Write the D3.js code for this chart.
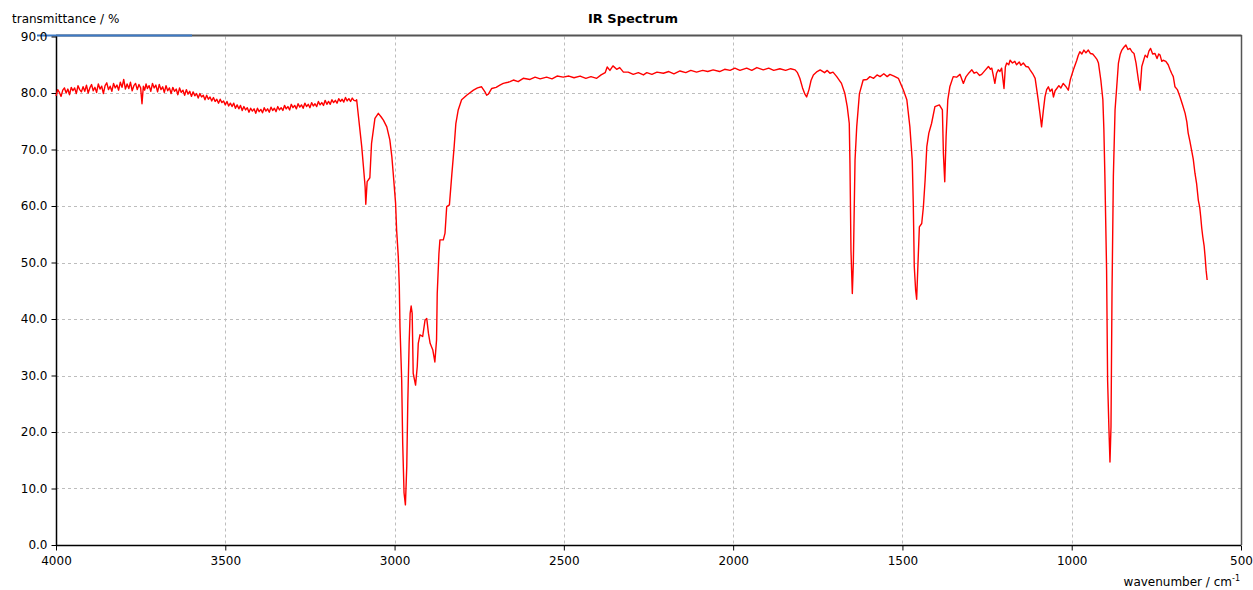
<!DOCTYPE html>
<html>
<head>
<meta charset="utf-8">
<script src="https://cdn.jsdelivr.net/npm/d3@7"></script>
<style>
  body { margin: 0; background: #fff; }
  svg text { font-family: "DejaVu Sans", Verdana, sans-serif; }
</style>
</head>
<body>
<svg id="chart" width="1253" height="590"></svg>
<script>
// IR spectrum (wavenumber cm-1, transmittance %)
var xTicks = [4000, 3500, 3000, 2500, 2000, 1500, 1000, 500]
var yTicks = [0, 10, 20, 30, 40, 50, 60, 70, 80, 90]

// noisy OH / baseline part, 4000 - 3115
var baseHigh = [
  [4000, 79.5], [3995, 80.6], [3990, 80.1], [3985, 79.4], [3980, 80.5], [3975, 80.9],
  [3970, 80.0], [3965, 80.7], [3960, 79.7], [3955, 81.0], [3950, 80.4], [3945, 80.9],
  [3940, 79.9], [3935, 81.3], [3930, 80.6], [3925, 80.2], [3920, 81.1], [3915, 80.3],
  [3910, 81.4], [3905, 80.0], [3900, 80.9], [3895, 81.5], [3890, 80.4], [3885, 81.0],
  [3880, 80.1], [3875, 81.6], [3870, 80.7], [3865, 81.2], [3860, 79.9], [3855, 81.3],
  [3850, 81.8], [3845, 80.6], [3840, 81.2], [3835, 80.3], [3830, 81.7], [3825, 80.9],
  [3820, 81.4], [3815, 80.5], [3810, 81.9], [3805, 81.0], [3800, 82.4], [3795, 80.7],
  [3790, 81.6], [3785, 80.8], [3780, 81.9], [3775, 80.4], [3770, 81.3], [3765, 81.7],
  [3760, 80.6], [3755, 81.5], [3750, 80.9], [3746, 78.1], [3742, 81.2], [3738, 80.5],
  [3734, 81.6], [3730, 80.8], [3725, 81.3], [3720, 80.3], [3715, 81.7], [3710, 80.9],
  [3705, 81.4], [3700, 80.2], [3695, 81.5], [3690, 80.6], [3685, 81.1], [3680, 80.1],
  [3675, 81.3], [3670, 80.4], [3665, 80.9], [3660, 79.9], [3655, 81.0], [3650, 80.3],
  [3645, 80.7], [3640, 79.7], [3635, 80.9], [3630, 80.1], [3625, 80.5], [3620, 79.6],
  [3615, 80.6], [3610, 79.8], [3605, 80.3], [3600, 79.4], [3595, 80.2], [3590, 79.5],
  [3585, 79.9], [3580, 79.1], [3575, 79.9], [3570, 79.3], [3565, 79.6], [3560, 78.8],
  [3555, 79.6], [3550, 78.9], [3545, 79.3], [3540, 78.6], [3535, 79.2], [3530, 78.5],
  [3525, 78.9], [3520, 78.2], [3515, 78.9], [3510, 78.3], [3505, 78.6], [3500, 77.9],
  [3495, 78.5], [3490, 77.7], [3485, 78.2], [3480, 77.6], [3475, 78.2], [3470, 77.3],
  [3465, 77.9], [3460, 77.2], [3455, 77.8], [3450, 76.9], [3445, 77.6], [3440, 77.0],
  [3435, 77.4], [3430, 76.6], [3425, 77.3], [3420, 76.8], [3415, 77.2], [3410, 76.4],
  [3405, 77.3], [3400, 76.7], [3395, 77.1], [3390, 76.5], [3385, 77.4], [3380, 76.8],
  [3375, 77.2], [3370, 76.6], [3365, 77.5], [3360, 76.9], [3355, 77.3], [3350, 76.7],
  [3345, 77.6], [3340, 77.0], [3335, 77.4], [3330, 76.9], [3325, 77.8], [3320, 77.2],
  [3315, 77.6], [3310, 77.0], [3305, 78.0], [3300, 77.4], [3295, 77.8], [3290, 77.2],
  [3285, 78.1], [3280, 77.5], [3275, 77.9], [3270, 77.3], [3265, 78.2], [3260, 77.6],
  [3255, 78.0], [3250, 77.4], [3245, 78.3], [3240, 77.7], [3235, 78.1], [3230, 77.6],
  [3225, 78.5], [3220, 77.9], [3215, 78.3], [3210, 77.8], [3205, 78.7], [3200, 78.0],
  [3195, 78.5], [3190, 78.0], [3185, 78.8], [3180, 78.3], [3175, 78.7], [3170, 78.2],
  [3165, 79.0], [3160, 78.5], [3155, 78.9], [3150, 78.4], [3145, 79.2], [3140, 78.6],
  [3135, 79.0], [3130, 78.5], [3125, 79.1], [3120, 78.7], [3115, 78.6]
]

// CH stretch region, 3112 - 2650
var chBands = [
  [3112, 78.8], [3097, 70.5], [3092, 67.0], [3087, 63.4], [3085, 60.3], [3081, 64.3],
  [3073, 65.0], [3068, 71.1], [3058, 75.5], [3048, 76.4], [3040, 75.8], [3033, 75.2],
  [3023, 74.0], [3014, 71.7], [3008, 68.7], [3004, 65.8], [2997, 60.5], [2994, 55.8],
  [2989, 51.0], [2986, 45.7], [2984, 38.6], [2979, 29.2], [2976, 18.0], [2972, 9.2],
  [2968, 7.1], [2964, 13.9], [2961, 25.1], [2957, 35.7], [2954, 41.0], [2951, 42.3],
  [2948, 41.0], [2945, 30.4], [2938, 28.3], [2933, 31.6], [2930, 35.7], [2925, 37.2],
  [2917, 36.9], [2910, 39.8], [2905, 40.1], [2900, 37.5], [2895, 35.7], [2887, 34.5],
  [2881, 32.4], [2876, 36.3], [2874, 44.5], [2869, 51.6], [2866, 54.0], [2856, 54.0],
  [2851, 55.2], [2846, 59.9], [2838, 60.2], [2831, 65.5], [2824, 70.5], [2819, 74.6],
  [2812, 77.0], [2802, 78.8], [2787, 79.6], [2767, 80.5], [2755, 80.9], [2743, 81.1],
  [2733, 80.2], [2728, 79.6], [2723, 79.8], [2713, 80.8], [2700, 81.0], [2689, 81.4],
  [2679, 81.7], [2665, 81.9], [2659, 82.0]
]

// flat middle part, 2650 - 1700
var midFlat = [
  [2649, 82.3], [2635, 82.0], [2620, 82.6], [2600, 82.4], [2585, 82.8], [2570, 82.5],
  [2551, 82.8], [2535, 82.5], [2520, 83.0], [2502, 82.8], [2485, 83.0], [2470, 82.7],
  [2452, 83.0], [2435, 82.6], [2420, 82.9], [2403, 82.6], [2390, 83.2], [2378, 83.6],
  [2372, 84.6], [2364, 84.0], [2355, 84.8], [2344, 84.2], [2335, 84.5], [2324, 83.7],
  [2310, 83.7], [2295, 83.3], [2280, 83.6], [2265, 83.2], [2255, 83.6], [2240, 83.3],
  [2225, 83.7], [2206, 83.5], [2190, 83.8], [2175, 83.4], [2157, 83.9], [2140, 83.6],
  [2125, 84.0], [2108, 83.7], [2090, 84.0], [2075, 83.8], [2059, 84.1], [2040, 83.8],
  [2025, 84.2], [2009, 84.0], [1995, 84.4], [1980, 84.0], [1960, 84.4], [1945, 84.0],
  [1930, 84.5], [1911, 84.1], [1895, 84.4], [1880, 84.0], [1862, 84.3], [1845, 84.0],
  [1830, 84.3], [1817, 84.1], [1810, 83.6], [1803, 82.6], [1795, 80.9], [1788, 79.8],
  [1783, 79.3], [1776, 80.6], [1770, 82.2], [1763, 83.2], [1752, 83.8], [1743, 84.1],
  [1730, 83.6], [1722, 84.0], [1714, 83.5], [1705, 83.7], [1694, 82.9]
]

// fingerprint region, 1690 - 600
var fingerprint = [
  [1680, 81.7], [1670, 79.9], [1663, 77.6], [1657, 74.6], [1655, 67.6], [1652, 52.2],
  [1648, 44.5], [1645, 49.9], [1640, 68.1], [1635, 74.0], [1627, 79.9], [1616, 82.3],
  [1605, 82.4], [1596, 82.9], [1585, 82.6], [1575, 83.2], [1566, 82.9], [1555, 83.4],
  [1545, 82.9], [1537, 83.3], [1525, 83.0], [1512, 82.6], [1497, 80.5], [1487, 78.8],
  [1478, 74.0], [1471, 68.1], [1468, 60.5], [1465, 49.3], [1461, 45.1], [1458, 43.5],
  [1454, 49.9], [1450, 56.3], [1443, 56.9], [1438, 59.9], [1433, 64.6], [1428, 70.5],
  [1422, 72.9], [1414, 74.6], [1404, 77.6], [1391, 77.9], [1382, 77.0], [1379, 69.3],
  [1375, 64.3], [1371, 72.3], [1366, 78.8], [1360, 81.1], [1350, 82.9], [1340, 82.8],
  [1330, 83.3], [1320, 81.7], [1312, 82.9], [1303, 83.6], [1295, 84.1], [1288, 83.5],
  [1281, 83.7], [1272, 83.1], [1266, 83.3], [1256, 84.0], [1246, 84.7], [1240, 84.2],
  [1236, 84.4], [1227, 81.7], [1222, 83.5], [1217, 84.1], [1212, 83.8], [1207, 84.4],
  [1200, 80.8], [1196, 84.6], [1192, 85.3], [1186, 85.0], [1182, 85.8], [1175, 85.3],
  [1168, 85.6], [1163, 85.0], [1155, 85.5], [1150, 84.9], [1143, 85.3], [1135, 84.7],
  [1128, 84.6], [1123, 84.1], [1115, 83.4], [1108, 82.6], [1099, 78.8], [1093, 76.0],
  [1089, 74.0], [1084, 76.8], [1079, 79.3], [1074, 80.6], [1069, 81.1], [1064, 80.3],
  [1058, 80.7], [1054, 79.3], [1049, 80.4], [1044, 80.8], [1038, 81.3], [1032, 80.9],
  [1025, 81.7], [1018, 81.2], [1010, 80.5], [1004, 82.4], [995, 84.1], [985, 85.8],
  [981, 86.6], [976, 87.3], [970, 86.9], [964, 87.6], [958, 87.1], [951, 87.6],
  [945, 87.0], [938, 86.9], [931, 86.4], [925, 85.9], [921, 85.3], [914, 82.3],
  [908, 78.8], [905, 73.5], [902, 65.2], [897, 48.7], [894, 29.2], [890, 20.4],
  [887, 14.7], [884, 20.9], [881, 44.5], [877, 65.2], [872, 77.0], [867, 81.1],
  [862, 85.3], [857, 86.8], [852, 87.6], [846, 88.1], [840, 88.5], [834, 87.7],
  [828, 87.9], [822, 87.3], [816, 87.0], [810, 85.3], [803, 82.3], [798, 80.5],
  [793, 84.7], [788, 85.7], [783, 86.7], [777, 86.3], [772, 87.4], [767, 87.9],
  [761, 86.9], [754, 87.0], [748, 86.1], [743, 86.9], [739, 86.7], [734, 85.6],
  [730, 85.8], [722, 85.6], [715, 85.0], [710, 84.2], [705, 83.5], [700, 82.9],
  [695, 81.1], [688, 80.6], [680, 79.3], [672, 77.8], [665, 76.4], [660, 74.9],
  [656, 72.9], [651, 71.5], [646, 69.9], [641, 68.3], [636, 65.8], [631, 63.9],
  [626, 61.0], [622, 59.8], [619, 58.1], [616, 56.1], [613, 54.6], [609, 53.0],
  [606, 51.0], [603, 48.6], [600, 46.9]
]

var svg = d3.select('#chart')

var x = d3.scaleLinear().domain([4000, 500]).range([56, 1241])
var y = d3.scaleLinear().domain([0, 90]).range([545, 36.5])

// grid
svg.append('g').selectAll('line.gy')
  .data(yTicks.filter(function(d) { return d > 0 && d < 90 }))
  .enter().append('line')
  .attr('x1', x(4000)).attr('x2', x(500))
  .attr('y1', function(d) { return Math.round(y(d)) + 0.5 })
  .attr('y2', function(d) { return Math.round(y(d)) + 0.5 })
  .attr('stroke', '#bdbdbd').attr('stroke-dasharray', '3,3')

svg.append('g').selectAll('line.gx')
  .data(xTicks.filter(function(d) { return d < 4000 && d > 500 }))
  .enter().append('line')
  .attr('x1', function(d) { return Math.round(x(d)) + 0.5 })
  .attr('x2', function(d) { return Math.round(x(d)) + 0.5 })
  .attr('y1', y(90)).attr('y2', y(0))
  .attr('stroke', '#bdbdbd').attr('stroke-dasharray', '3,3')

// frame (top / right darker gray)
svg.append('line').attr('x1', 56).attr('x2', 1241.5).attr('y1', 35.5).attr('y2', 35.5)
  .attr('stroke', '#555').attr('stroke-width', 2)
svg.append('line').attr('x1', 1241.5).attr('x2', 1241.5).attr('y1', 35).attr('y2', 545)
  .attr('stroke', '#555').attr('stroke-width', 1.5)
svg.append('line').attr('x1', 37).attr('x2', 192).attr('y1', 35.5).attr('y2', 35.5)
  .attr('stroke', '#3d7ac6').attr('stroke-width', 2)

// axes
var yAxis = d3.axisLeft(y).tickValues(yTicks).tickFormat(d3.format('.1f'))
  .tickSize(5).tickPadding(4)
var gy = svg.append('g').attr('transform', 'translate(56.5,0)').call(yAxis)

var xAxis = d3.axisBottom(x).tickValues(xTicks).tickFormat(d3.format('d'))
  .tickSize(5).tickPadding(6)
var gx = svg.append('g').attr('transform', 'translate(0,545.5)').call(xAxis)

;[gy, gx].forEach(function(g) {
  g.select('.domain').attr('stroke', '#000').attr('stroke-width', 1.5)
  g.selectAll('.tick line').attr('stroke', '#000')
  g.selectAll('.tick text').attr('fill', '#000')
    .style('font-family', '"DejaVu Sans", Verdana, sans-serif').style('font-size', '12px')
})
gy.select('.domain').attr('d', 'M0,' + y(90) + 'V' + y(0))
gx.select('.domain').attr('d', 'M' + x(4000) + ',0H' + x(500))

// spectrum
var spectrum = baseHigh.concat(chBands, midFlat, fingerprint)
var line = d3.line()
  .x(function(d) { return x(d[0]) })
  .y(function(d) { return y(d[1]) })

svg.append('path').datum(spectrum)
  .attr('d', line)
  .attr('fill', 'none')
  .attr('stroke', '#ff0000')
  .attr('stroke-width', 1.4)
  .attr('stroke-linejoin', 'round')

// texts
svg.append('text').attr('x', 12).attr('y', 23)
  .style('font-size', '12px').text('transmittance / %')

svg.append('text').attr('x', 633).attr('y', 23).attr('text-anchor', 'middle')
  .style('font-size', '13px').style('font-weight', 'bold').text('IR Spectrum')

var xl = svg.append('text').attr('x', 1240).attr('y', 586).attr('text-anchor', 'end')
  .style('font-size', '12px')
xl.append('tspan').text('wavenumber / cm')
xl.append('tspan').attr('dy', -5).style('font-size', '8px').text('-1')
</script>
</body>
</html>
